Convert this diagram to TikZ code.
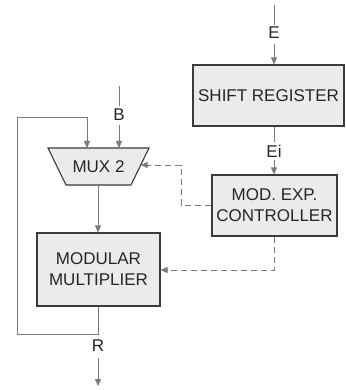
\documentclass[tikz,border=0pt]{standalone}
\usepackage{fontspec}
\setmainfont{Liberation Sans}
\usetikzlibrary{arrows.meta}
\definecolor{wire}{HTML}{7A7A7A}
\definecolor{boxfill}{HTML}{EBEBEB}
\definecolor{boxline}{HTML}{3A3A3A}
\begin{document}
\begin{tikzpicture}[x=1pt,y=-1pt,
  blk/.style={draw=boxline,line width=1.1pt,fill=boxfill,inner sep=0pt,align=center,
    font=\fontsize{17}{21}\selectfont,text=black!85},
  lbl/.style={font=\fontsize{17}{21}\selectfont,text=black!85,inner sep=0pt},
  wr/.style={draw=wire,line width=0.9pt},
  arr/.style={wr,-{Triangle[length=7pt,width=6pt]}},
  dsh/.style={arr,dash pattern=on 6pt off 4pt}]
\useasboundingbox (0,0) rectangle (345,390);
% boxes
\node[blk,minimum width=151pt,minimum height=61pt] (sr) at (268.5,95.5) {SHIFT REGISTER};
\node[blk,minimum width=125pt,minimum height=61pt] (mec) at (274.5,205.5) {MOD. EXP.\\CONTROLLER};
\node[blk,minimum width=123pt,minimum height=73pt] (mm) at (98.5,269.5) {MODULAR\\MULTIPLIER};
% mux trapezoid
\draw[draw=boxline,line width=1.1pt,fill=boxfill] (48,148) -- (149,148) -- (131,185) -- (66,185) -- cycle;
\node[lbl] (mux) at (98.5,166.5) {MUX 2};
\coordinate (muxtopL) at (87,148);
\coordinate (muxtopB) at (119,148);
\coordinate (muxbot) at (98,185);
\coordinate (muxside) at (140.7,165);
% E input
\coordinate (etop) at (274,5);
\node[lbl] (E) at (274,33) {E};
\draw[wr] (etop) -- (E.north |- 0,25);
\draw[arr] (274,44) -- (sr.north -| 274,0);
% Ei
\node[lbl] (Ei) at (274,151) {Ei};
\draw[wr] (sr.south -| 274,0) -- (274,142);
\draw[arr] (274,160) -- (mec.north -| 274,0);
% B input
\coordinate (btop) at (119,86);
\node[lbl] (B) at (119,115) {B};
\draw[wr] (btop) -- (119,106);
\draw[arr] (119,125) -- (muxtopB);
% mux to multiplier
\draw[arr] (muxbot) -- (mm.north -| muxbot);
% feedback
\coordinate (fb) at (98,334);
\draw[arr] (mm.south -| 98,0) -- (fb) -| (17,117) -| (muxtopL);
% R output
\node[lbl] (R) at (98,346) {R};
\coordinate (rend) at (98,386);
\draw[arr] (98,358) -- (rend);
% dashed control
\draw[dsh] (mec.west |- 0,205) -| (181,165) -- (muxside);
\draw[dsh] (mec.south -| 274,0) |- (mm.east |- 0,270);
\end{tikzpicture}
\end{document}
